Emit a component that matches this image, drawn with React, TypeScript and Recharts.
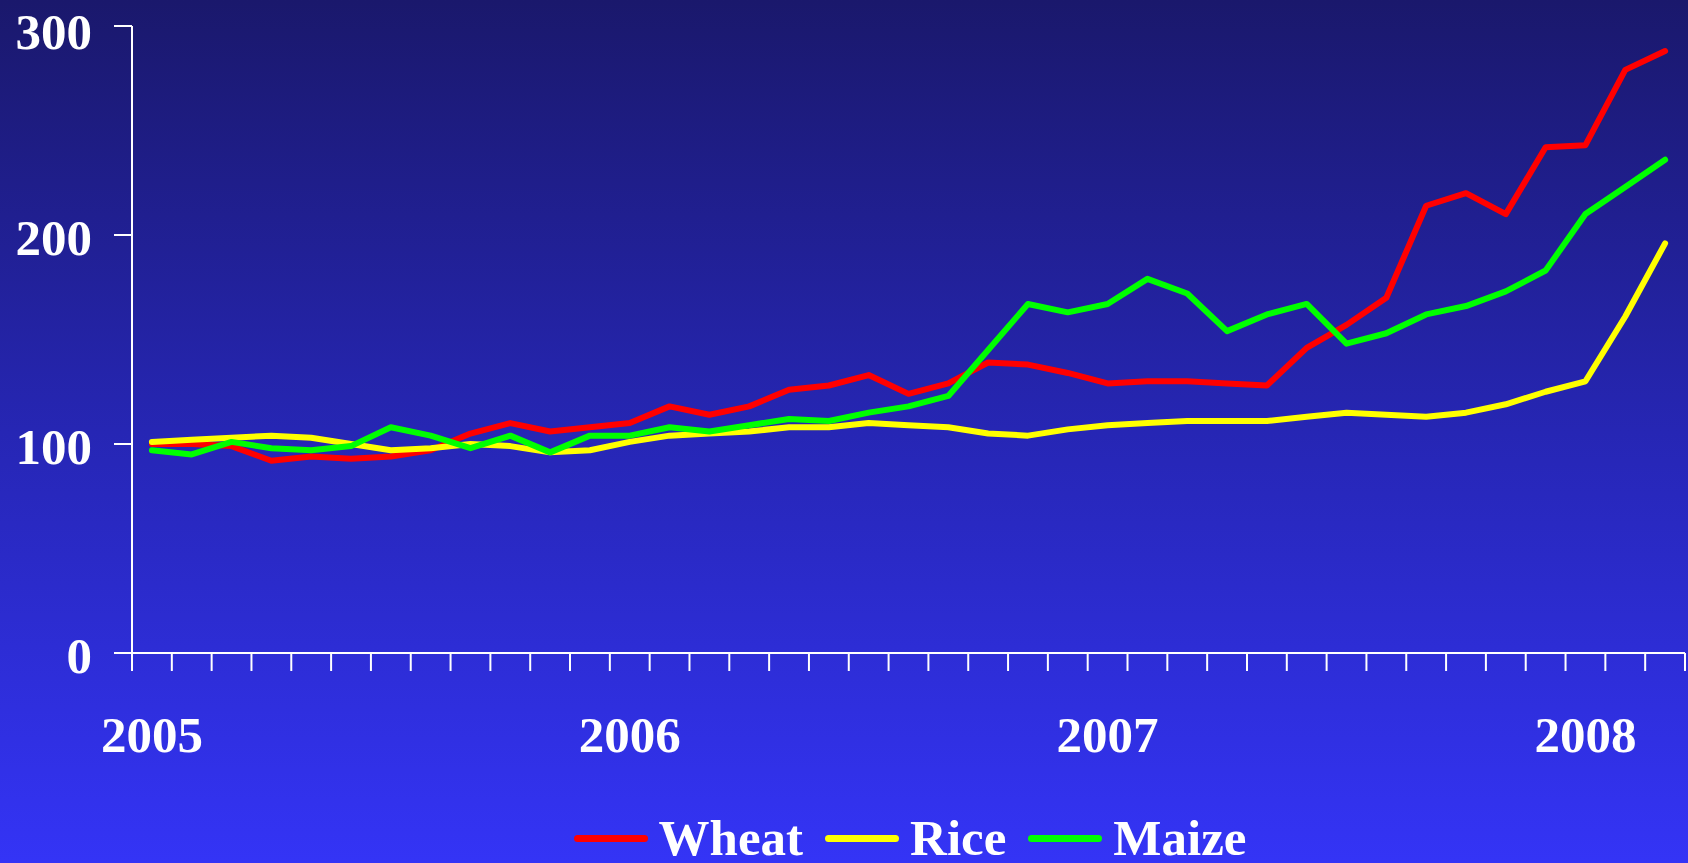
import { LineChart, Line, XAxis, YAxis, Legend } from "recharts";

// monthly index, Jan 2005 = 100
const months = [
  "2005-01", "2005-02", "2005-03", "2005-04", "2005-05", "2005-06", "2005-07", "2005-08", "2005-09", "2005-10", "2005-11", "2005-12",
  "2006-01", "2006-02", "2006-03", "2006-04", "2006-05", "2006-06", "2006-07", "2006-08", "2006-09", "2006-10", "2006-11", "2006-12",
  "2007-01", "2007-02", "2007-03", "2007-04", "2007-05", "2007-06", "2007-07", "2007-08", "2007-09", "2007-10", "2007-11", "2007-12",
  "2008-01", "2008-02", "2008-03",
];

const wheat = [100, 100, 99, 92, 94, 93, 94, 97, 105, 110, 106, 108, 110, 118, 114, 118, 126, 128, 133, 124, 129, 139, 138, 134, 129, 130, 130, 129, 128, 146, 157, 170, 214, 220, 210, 242, 243, 279, 288];
const rice = [101, 102, 103, 104, 103, 100, 97, 98, 100, 99, 96, 97, 101, 104, 105, 106, 108, 108, 110, 109, 108, 105, 104, 107, 109, 110, 111, 111, 111, 113, 115, 114, 113, 115, 119, 125, 130, 161, 196];
const maize = [97, 95, 101, 98, 97, 99, 108, 104, 98, 104, 96, 104, 104, 108, 106, 109, 112, 111, 115, 118, 123, 145, 167, 163, 167, 179, 172, 154, 162, 167, 148, 153, 162, 166, 173, 183, 210, 223, 236];

const yTicks = [0, 100, 200, 300];

const series = [
  { key: "wheat", name: "Wheat", color: "#ff0000" },
  { key: "rice", name: "Rice", color: "#ffff00" },
  { key: "maize", name: "Maize", color: "#00ff00" },
];

const data = months.map((m, i) => ({ x: i, wheat: wheat[i], rice: rice[i], maize: maize[i] }));

// tick marks sit on the month boundaries, year labels on January
const boundaryTicks = [...months.map((_, i) => i - 0.5), months.length - 0.5];
const yearTicks = months.map((m, i) => (m.endsWith("-01") ? i : -1)).filter((i) => i >= 0);

const font = "'Liberation Serif', 'Times New Roman', serif";
const tickStyle = { fill: "#ffffff", fontSize: 51, fontWeight: "bold", fontFamily: font };

const LegendContent = () => (
  <div
    style={{
      width: 1688,
      height: 50,
      paddingLeft: 132,
      boxSizing: "border-box",
      display: "flex",
      justifyContent: "center",
      alignItems: "center",
      fontFamily: font,
      fontWeight: "bold",
      fontSize: 51,
      lineHeight: "50px",
      color: "#ffffff",
    }}
  >
    {series.map((s, i) => (
      <div key={s.key} style={{ display: "flex", alignItems: "center", marginLeft: i === 0 ? 0 : 22 }}>
        <div style={{ width: 74, height: 7, borderRadius: 3.5, background: s.color, marginRight: 11 }} />
        <span>{s.name}</span>
      </div>
    ))}
  </div>
);

export default function App() {
  return (
    <div
      style={{
        position: "fixed",
        top: 0,
        left: 0,
        width: 1688,
        height: 863,
        background: "linear-gradient(to bottom, #1a186c 0%, #2626b4 50%, #3434f6 100%)",
      }}
    >
      <LineChart width={1688} height={863} data={data} margin={{ top: 26, right: 3, bottom: 0, left: 0 }}>
        <YAxis
          domain={[0, 300]}
          ticks={yTicks}
          width={132}
          stroke="#ffffff"
          strokeWidth={2}
          tickSize={18}
          tickMargin={22}
          tick={tickStyle}
          dy={2}
        />
        <XAxis
          xAxisId="m"
          dataKey="x"
          type="number"
          domain={[-0.5, months.length - 0.5]}
          ticks={boundaryTicks}
          interval={0}
          height={20}
          stroke="#ffffff"
          strokeWidth={2}
          tickSize={18}
          tick={{ fontSize: 1, fill: "none" }}
          tickFormatter={() => ""}
        />
        <XAxis
          xAxisId="yr"
          dataKey="x"
          type="number"
          domain={[-0.5, months.length - 0.5]}
          ticks={yearTicks}
          interval={0}
          height={140}
          axisLine={false}
          tickLine={false}
          tickSize={0}
          tickMargin={43}
          tick={tickStyle}
          tickFormatter={(v: number) => months[v].slice(0, 4)}
        />
        <Legend verticalAlign="bottom" content={<LegendContent />} />
        {series.map((s) => (
          <Line
            key={s.key}
            xAxisId="m"
            type="linear"
            dataKey={s.key}
            name={s.name}
            stroke={s.color}
            strokeWidth={6}
            strokeLinecap="round"
            strokeLinejoin="round"
            dot={false}
            isAnimationActive={false}
          />
        ))}
      </LineChart>
    </div>
  );
}
